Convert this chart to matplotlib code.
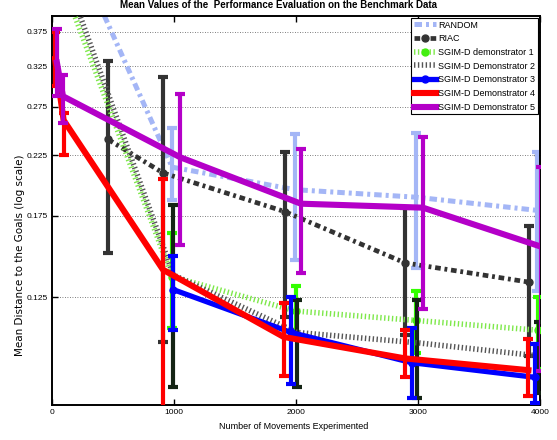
import numpy as np
import matplotlib
matplotlib.use("Agg")
import matplotlib.pyplot as plt
from matplotlib.ticker import NullLocator, FixedLocator, FixedFormatter

plt.rcParams['font.family'] = ['Liberation Sans', 'DejaVu Sans']

# data (x = movements, y = mean distance)
x_random = [100, 985, 1990, 2985, 3975]
y_random = [0.58, 0.214, 0.195, 0.189, 0.179]
lo_random = [0.52, 0.187, 0.146, 0.141, 0.128]
hi_random = [0.64, 0.252, 0.245, 0.247, 0.228]

x_riac = [460, 910, 1910, 2895, 3910]
y_riac = [0.240, 0.209, 0.178, 0.144, 0.133]
lo_riac = [0.150, 0.104, 0.115, 0.107, 0.098]
hi_riac = [0.332, 0.311, 0.228, 0.181, 0.168]

x_d1 = [100, 985, 2000, 2985, 3985]
y_d1 = [0.45, 0.136, 0.118, 0.1135, 0.109]
lo_d1 = [0.42, 0.110, 0.105, 0.099, 0.093]
hi_d1 = [0.48, 0.163, 0.131, 0.128, 0.125]

x_d2 = [100, 995, 2008, 2992, 3990]
y_d2 = [0.48, 0.137, 0.108, 0.1035, 0.098]
lo_d2 = [0.45, 0.0862, 0.0862, 0.0825, 0.0839]
hi_d2 = [0.51, 0.183, 0.1235, 0.1235, 0.113]

x_d3 = [992, 1960, 2950, 3960]
y_d3 = [0.129, 0.108, 0.0953, 0.0897]
lo_d3 = [0.109, 0.0874, 0.0822, 0.0807]
hi_d3 = [0.148, 0.125, 0.110, 0.103]

x_d4 = [25, 95, 910, 1900, 2895, 3905]
y_d4 = [0.335, 0.26, 0.140, 0.106, 0.097, 0.0924]
lo_d4 = [0.30, 0.225, 0.07, 0.0902, 0.0898, 0.0832]
hi_d4 = [0.375, 0.268, 0.204, 0.122, 0.109, 0.105]

x_d5 = [40, 90, 1050, 2040, 3040, 4010]
y_d5 = [0.33, 0.287, 0.223, 0.184, 0.181, 0.154]
lo_d5 = [0.287, 0.257, 0.155, 0.138, 0.119, 0.092]
hi_d5 = [0.379, 0.314, 0.290, 0.231, 0.242, 0.214]

labels = ['RANDOM', 'RIAC', 'SGIM-D demonstrator 1', 'SGIM-D Demonstrator 2',
          'SGIM-D Demonstrator 3', 'SGIM-D Demonstrator 4', 'SGIM-D Demonstrator 5']
yticks = [0.125, 0.175, 0.225, 0.275, 0.325, 0.375]
xticks = [0, 1000, 2000, 3000, 4000]

series = [
    (x_random, y_random, lo_random, hi_random,
     dict(color='#a4b6f6', lw=3.6, ls=(0, (1.5, 0.8, 0.6, 0.8))), '#a4b6f6'),
    (x_riac, y_riac, lo_riac, hi_riac,
     dict(color='#333333', lw=3.4, ls=(0, (1.2, 0.8, 0.6, 0.8)), marker='o', ms=5), '#333333'),
    (x_d1, y_d1, lo_d1, hi_d1,
     dict(color='#7ee84a', lw=4, ls=(0, (0.25, 0.45)), marker='o', ms=5, mfc='#44ee11', mec='#44ee11'),
     '#33ff00'),
    (x_d2, y_d2, lo_d2, hi_d2,
     dict(color='#555555', lw=4, ls=(0, (0.25, 0.45))), '#142414'),
    (x_d3, y_d3, lo_d3, hi_d3,
     dict(color='#0000ff', lw=3.8, marker='o', ms=5), '#0000ff'),
    (x_d4, y_d4, lo_d4, hi_d4,
     dict(color='#ff0000', lw=4.4), '#ff0000'),
    (x_d5, y_d5, lo_d5, hi_d5,
     dict(color='#b400c8', lw=4.4), '#b400c8'),
]

fig = plt.figure(figsize=(5.57, 4.4), dpi=100)
ax = fig.add_axes([52 / 557, 1 - 405 / 440, 488 / 557, 389 / 440])

handles = []
for i, (xs, ys, lo, hi, style, bar_color) in enumerate(series):
    xs = np.array(xs, dtype=float)
    ys = np.array(ys)
    err = [ys - np.array(lo), np.array(hi) - ys]
    ax.errorbar(xs, ys, yerr=err, fmt='none', ecolor=bar_color, elinewidth=3,
                capsize=3.6, capthick=3, zorder=2 + i)
    line, = ax.plot(xs, ys, label=labels[i], zorder=2.5 + i, **style)
    handles.append(line)

ax.set_yscale('log')
ax.set_xlim(0, 4000)
ax.set_ylim(0.08, 0.4)
ax.yaxis.set_major_locator(FixedLocator(yticks))
ax.yaxis.set_major_formatter(FixedFormatter(['%.3f' % t for t in yticks]))
ax.yaxis.set_minor_locator(NullLocator())
ax.set_xticks(xticks)
ax.set_xticklabels([str(t) for t in xticks])
ax.tick_params(direction='in', length=4, width=1, labelsize=6, top=True, right=True, pad=3)
ax.grid(True, axis='y', linestyle=(0, (1, 2)), color='#555555', lw=0.6)
for s in ax.spines.values():
    s.set_linewidth(1.4)

leg = ax.legend(handles=handles, loc='upper right', fontsize=6.5, handlelength=2.4,
                borderaxespad=0.2, labelspacing=0.52, handletextpad=0.3,
                fancybox=False, framealpha=1, edgecolor='black', borderpad=0.3)
leg.get_frame().set_linewidth(0.8)

fig.text(278 / 557, 1 - 5 / 440, 'Mean Values of the  Performance Evaluation on the Benchmark Data',
         ha='center', va='center', fontsize=7, fontweight='bold')
fig.text(20 / 557, 1 - 255 / 440, 'Mean Distance to the Goals (log scale)',
         ha='center', va='center', rotation=90, fontsize=7.5, family='DejaVu Sans')
fig.text(294 / 557, 1 - 426 / 440, 'Number of Movements Experimented',
         ha='center', va='center', fontsize=6.5)

fig.savefig('out.png', dpi=100)
